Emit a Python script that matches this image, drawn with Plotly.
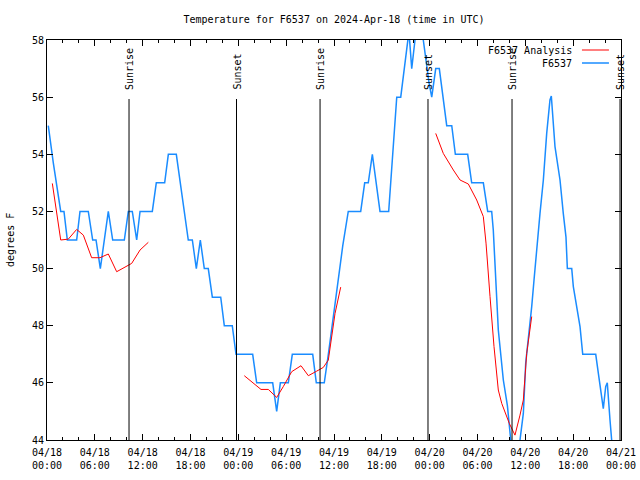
import pandas as pd
import plotly.graph_objects as go

base = pd.Timestamp("2024-04-18 00:00")

# Observed F6537 (hours after 2024-04-18 00:00 UTC, degrees F)
obs_hours = [0.16, 0.79, 1.72, 2.13, 2.55, 3.72, 4.14, 5.18, 5.73, 6.15, 6.69, 7.69, 8.24, 9.70,
             10.20, 10.70, 11.25, 11.67, 13.21, 13.71, 14.76, 15.22, 16.22, 17.72, 18.23, 18.73,
             19.23, 19.73, 20.23, 20.74, 21.79, 22.24, 23.24, 23.71, 25.80, 26.30, 28.31, 28.81,
             29.27, 30.27, 30.77, 33.33, 33.78, 34.78, 35.29, 36.54, 37.10, 37.79, 39.35, 39.85,
             40.30, 40.81, 41.77, 42.86, 43.87, 44.37, 45.28, 45.40, 45.75, 46.16, 46.60, 47.20,
             47.92, 48.26, 48.76, 49.21, 50.14, 50.77, 51.22, 52.77, 53.27, 54.73, 55.28, 55.78,
             55.98, 56.61, 57.24, 57.75, 58.17, 58.70, 59.33, 59.75, 60.05, 60.37, 60.80, 61.09,
             61.43, 61.84, 62.26, 62.68, 63.09, 63.26, 63.72, 64.35, 64.76, 65.10, 65.27, 65.82,
             66.02, 66.45, 66.86, 67.20, 68.83, 69.16, 69.58, 69.78, 70.08, 70.28, 70.62, 70.83]
obs_temp = [55.0, 53.7, 52.0, 52.0, 51.0, 51.0, 52.0, 52.0, 51.0, 51.0, 50.0, 52.0, 51.0, 51.0,
            52.0, 52.0, 51.0, 52.0, 52.0, 53.0, 53.0, 54.0, 54.0, 51.0, 51.0, 50.0,
            51.0, 50.0, 50.0, 49.0, 49.0, 48.0, 48.0, 47.0, 47.0, 46.0, 46.0, 45.0,
            46.0, 46.0, 47.0, 47.0, 46.0, 46.0, 47.0, 49.6, 50.8, 52.0, 52.0, 53.0,
            53.0, 54.0, 52.0, 52.0, 56.0, 56.0, 58.0, 58.3, 57.0, 58.0, 58.5, 58.0,
            56.5, 56.0, 57.0, 57.0, 55.0, 55.0, 54.0, 54.0, 53.0, 53.0, 52.0, 52.0,
            51.35, 47.85, 46.1, 45.2, 44.0, 43.5, 44.0, 44.93, 46.7, 47.5, 48.67, 49.6,
            50.77, 51.93, 53.1, 54.73, 55.9, 56.04, 54.27, 53.1, 51.93, 51.1, 50.0, 50.0,
            49.37, 48.67, 47.97, 47.0, 47.0, 46.33, 45.4, 45.1, 45.87, 46.0, 44.7, 44.0]

# F6537 Analysis (None marks gaps between analysis segments)
ana_hours = [0.67, 1.72, 2.67, 3.72, 4.56, 5.60, 6.65, 7.69, 8.74, 10.62, 11.67, 12.71, None,
             24.75, 26.30, 26.84, 27.76, 28.81, 29.64, 30.69, 31.86, 32.78, 33.83, 34.66, 35.29,
             36.13, 36.84, None,
             48.76, 49.71, 50.97, 51.81, 52.85, 53.90, 54.73, 55.07, 55.57, 56.07, 56.61, 57.04,
             57.99, 58.70, 59.33, 59.75, 60.17, 60.80]
ana_temp = [52.98, 51.0, 51.03, 51.37, 51.17, 50.38, 50.38, 50.51, 49.89, 50.18, 50.65, 50.92, None,
            46.25, 45.87, 45.77, 45.77, 45.49, 45.87, 46.39, 46.6, 46.25, 46.41, 46.54, 46.8,
            48.43, 49.35, None,
            54.73, 54.03, 53.45, 53.1, 52.96, 52.4, 51.82, 50.89, 49.02, 47.27, 45.75, 45.28,
            44.58, 44.17, 44.87, 45.4, 47.03, 48.32]

# Sun events (hours after start)
sun_hours = [10.29, 23.77, 34.25, 47.79, 58.33, 71.88]
sun_labels = ["Sunrise", "Sunset", "Sunrise", "Sunset", "Sunrise", "Sunset"]

y_ticks = [44, 46, 48, 50, 52, 54, 56, 58]

def to_time(hs):
    return [None if h is None else base + pd.Timedelta(hours=h) for h in hs]

FONT = "DejaVu Sans Mono"
RED = "#ff0000"
BLUE = "#1a8cff"

fig = go.Figure()
fig.add_trace(go.Scatter(x=to_time(obs_hours), y=obs_temp, mode="lines",
                         line=dict(color=BLUE, width=1.5), name="F6537"))
fig.add_trace(go.Scatter(x=to_time(ana_hours), y=ana_temp, mode="lines",
                         line=dict(color=RED, width=1), name="F6537 Analysis",
                         connectgaps=False))

for h, lab in zip(sun_hours, sun_labels):
    t = base + pd.Timedelta(hours=h)
    fig.add_shape(type="line", xref="x", yref="paper", x0=t, x1=t, y0=0, y1=0.8525,
                  line=dict(color="black", width=1))
    fig.add_annotation(x=t, xref="x", y=0.87, yref="paper", text=lab, textangle=-90,
                       showarrow=False, xanchor="center", yanchor="bottom",
                       font=dict(family=FONT, size=10, color="black"))

# legend drawn manually (gnuplot style: text then line sample)
for ylab, lab, col in [(0.975, "F6537 Analysis", RED), (0.9425, "F6537", BLUE)]:
    fig.add_annotation(x=0.918, xref="paper", y=ylab, yref="paper", text=lab, showarrow=False,
                       xanchor="right", yanchor="middle",
                       font=dict(family=FONT, size=10, color="black"))
    fig.add_shape(type="line", xref="paper", yref="paper", x0=0.932, x1=0.979, y0=ylab, y1=ylab,
                  line=dict(color=col, width=1.5 if col == BLUE else 1))

fig.add_annotation(x=-0.0645, xref="paper", y=0.5, yref="paper", text="degrees F",
                   textangle=-90, showarrow=False, xanchor="center", yanchor="middle",
                   font=dict(family=FONT, size=10, color="black"))

fig.update_layout(
    width=640, height=480,
    margin=dict(l=47, r=19, t=40, b=40, autoexpand=False),
    paper_bgcolor="white", plot_bgcolor="white",
    showlegend=False,
    title=dict(text="Temperature for F6537 on 2024-Apr-18 (time in UTC)", x=0.5, xref="paper",
               y=1 - 19 / 480, yanchor="middle", xanchor="center",
               font=dict(family=FONT, size=10, color="black")),
    font=dict(family=FONT, size=10, color="black"),
)
fig.update_xaxes(type="date", range=[base, base + pd.Timedelta(hours=72)], automargin=False,
                 dtick=6 * 3600 * 1000, tick0=base, tickformat="%m/%d<br>%H:%M",
                 ticks="inside", ticklen=6, tickcolor="black", showgrid=False, zeroline=False,
                 showline=True, linecolor="black", linewidth=1, mirror="allticks",
                 ticklabelstandoff=3,
                 minor=dict(dtick=2 * 3600 * 1000, tick0=base, ticks="inside", ticklen=3,
                            tickcolor="black", showgrid=False),
                 tickfont=dict(family=FONT, size=10, color="black"))
fig.update_yaxes(range=[44, 58], tickvals=y_ticks, ticks="inside", ticklen=6, tickcolor="black",
                 automargin=False,
                 showgrid=False, zeroline=False, showline=True, linecolor="black", linewidth=1,
                 mirror="allticks", tickfont=dict(family=FONT, size=10, color="black"))

fig.write_html("out.html", config={"displayModeBar": False},
               post_script="document.body.style.margin='0';document.body.style.overflow='hidden';")
